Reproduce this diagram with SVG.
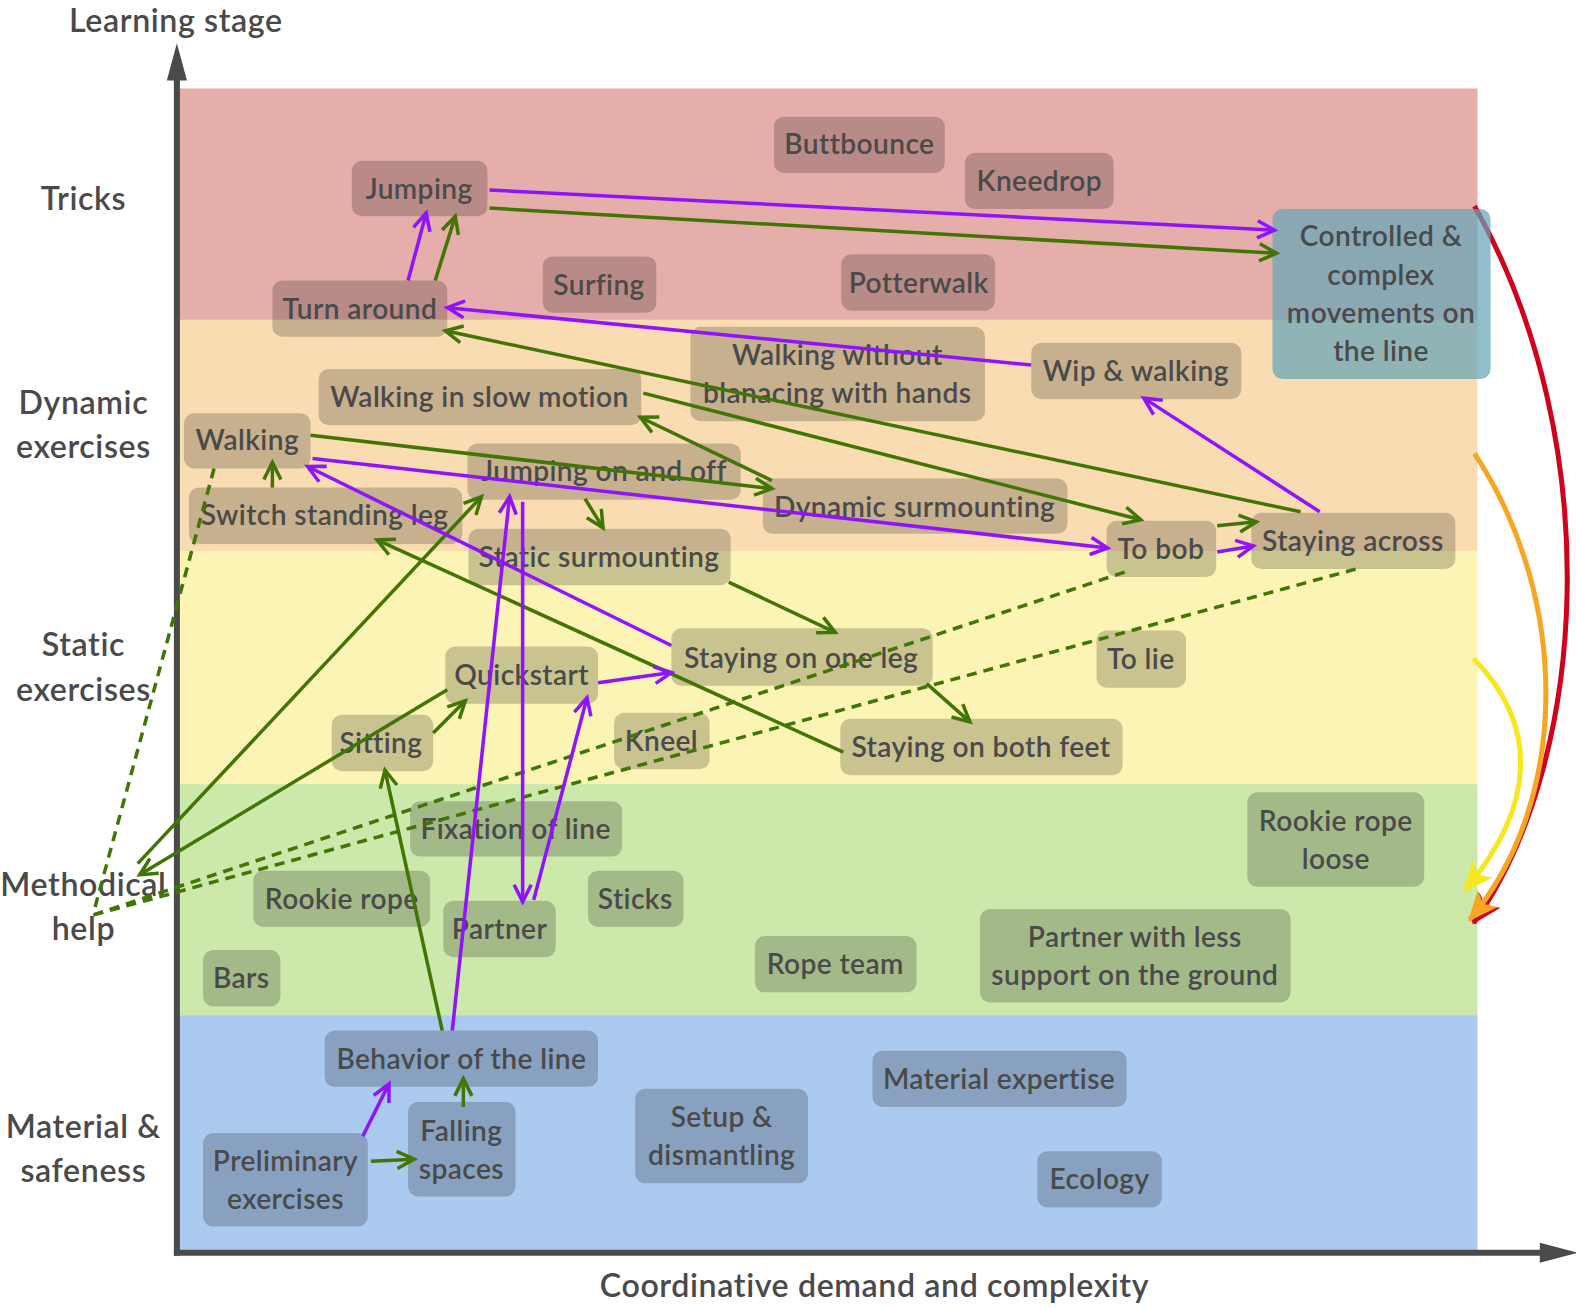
<svg xmlns="http://www.w3.org/2000/svg" width="1576" height="1308" viewBox="0 0 1576 1308">
<style>
.t{font-family:Lato,"Noto Sans","Liberation Sans",sans-serif;font-weight:600;font-size:28px;letter-spacing:0.4px;fill:#4a4a4a;text-anchor:middle}
.lab{font-family:Lato,"Noto Sans","Liberation Sans",sans-serif;font-weight:600;font-size:32px;letter-spacing:0.6px;fill:#4a4a4a;text-anchor:middle}
.node{fill:#000;fill-opacity:.2}
.pu{stroke:#9013FE;stroke-width:3.5;fill:none;marker-end:url(#mp)}
.gr{stroke:#417505;stroke-width:3.5;fill:none;marker-end:url(#mg)}
.da{stroke:#417505;stroke-width:3.5;fill:none;stroke-dasharray:10 7}
.axis{stroke:#4a4a4a;stroke-width:6;fill:none}
</style>
<defs>
<marker id="mp" markerUnits="userSpaceOnUse" orient="auto" markerWidth="24" markerHeight="24" viewBox="-20 -12 24 24" refX="0" refY="0" overflow="visible"><path d="M-17,-8.5 L0,0 L-17,8.5" fill="none" stroke="#9013FE" stroke-width="3.5"/></marker>
<marker id="mg" markerUnits="userSpaceOnUse" orient="auto" markerWidth="24" markerHeight="24" viewBox="-20 -12 24 24" refX="0" refY="0" overflow="visible"><path d="M-17,-8.5 L0,0 L-17,8.5" fill="none" stroke="#417505" stroke-width="3.5"/></marker>
<marker id="mr" markerUnits="userSpaceOnUse" orient="auto" markerWidth="34" markerHeight="34" viewBox="-29 -17 34 34" refX="0" refY="0" overflow="visible"><path d="M-28,-13 L2,0 L-28,13 L-21,0 z" fill="#D0021B"/></marker>
<marker id="mo" markerUnits="userSpaceOnUse" orient="auto" markerWidth="34" markerHeight="34" viewBox="-29 -17 34 34" refX="0" refY="0" overflow="visible"><path d="M-28,-13 L2,0 L-28,13 L-21,0 z" fill="#F5A623"/></marker>
<marker id="my" markerUnits="userSpaceOnUse" orient="auto" markerWidth="34" markerHeight="34" viewBox="-29 -17 34 34" refX="0" refY="0" overflow="visible"><path d="M-28,-13 L2,0 L-28,13 L-21,0 z" fill="#F8E71C"/></marker>
</defs>
<rect width="1576" height="1308" fill="#fff"/>
<g transform="scale(1.0051,1.0054)">
<g id="bands">
<rect x="176" y="88" width="1294" height="231" fill="#e6aeaa"/>
<rect x="176" y="318" width="1294" height="231" fill="#f9dcb1"/>
<rect x="176" y="548" width="1294" height="233" fill="#fcf4b5"/>
<rect x="176" y="780" width="1294" height="231" fill="#cde8ab"/>
<rect x="176" y="1010" width="1294" height="236" fill="#abcaf0"/>
</g>
<g id="axes">
<line class="axis" x1="176" y1="1249" x2="176" y2="76"/>
<polygon points="176,43 166,80 186,80" fill="#4a4a4a"/>
<line class="axis" x1="173" y1="1246" x2="1535" y2="1246"/>
<polygon points="1570,1246 1532,1236 1532,1256" fill="#4a4a4a"/>
<text class="lab" x="175" y="32">Learning stage</text>
<text class="lab" x="870" y="1290">Coordinative demand and complexity</text>
</g>
<g id="stage-labels">
<text class="lab" x="83" y="209">Tricks</text>
<text class="lab" x="83" y="412">Dynamic</text>
<text class="lab" x="83" y="456">exercises</text>
<text class="lab" x="83" y="652">Static</text>
<text class="lab" x="83" y="697">exercises</text>
<text class="lab" x="83" y="891">Methodical</text>
<text class="lab" x="83" y="935">help</text>
<text class="lab" x="83" y="1132">Material &amp;</text>
<text class="lab" x="83" y="1176">safeness</text>
</g>
<g id="progress-arrows" fill="none" stroke-width="5">
<path d="M1467,205 C1600,440 1580,760 1466,918" stroke="#D0021B" marker-end="url(#mr)"/>
<path d="M1467,451 C1565,600 1560,800 1462,915" stroke="#F5A623" marker-end="url(#mo)"/>
<path d="M1466,655 C1530,720 1530,800 1457,886" stroke="#F8E71C" marker-end="url(#my)"/>
</g>
<g id="n-buttbounce"><rect class="node" x="770" y="116" width="170" height="56" rx="10"/><text class="t" x="855" y="153">Buttbounce</text></g>
<g id="n-kneedrop"><rect class="node" x="960" y="152" width="148" height="56" rx="10"/><text class="t" x="1034" y="190">Kneedrop</text></g>
<g id="n-jumping"><rect class="node" x="350" y="160" width="135" height="55" rx="10"/><text class="t" x="417" y="198">Jumping</text></g>
<g id="n-surfing"><rect class="node" x="540" y="255" width="113" height="56" rx="10"/><text class="t" x="596" y="293">Surfing</text></g>
<g id="n-potterwalk"><rect class="node" x="837" y="253" width="153" height="56" rx="10"/><text class="t" x="914" y="291">Potterwalk</text></g>
<g id="n-turn-around"><rect class="node" x="271" y="279" width="174" height="56" rx="10"/><text class="t" x="358" y="317">Turn around</text></g>
<g id="n-controlled"><rect x="1266" y="208" width="217" height="169" rx="10" fill="rgb(102,165,185)" fill-opacity=".72"/><text class="t" x="1374" y="245">Controlled &amp;</text><text class="t" x="1374" y="283">complex</text><text class="t" x="1374" y="321">movements on</text><text class="t" x="1374" y="359">the line</text></g>
<g id="n-walking-without"><rect class="node" x="687" y="325" width="293" height="94" rx="10"/><text class="t" x="833" y="363">Walking without</text><text class="t" x="833" y="401">blanacing with hands</text></g>
<g id="n-wip"><rect class="node" x="1026" y="341" width="209" height="56" rx="10"/><text class="t" x="1130" y="379">Wip &amp; walking</text></g>
<g id="n-slow-motion"><rect class="node" x="317" y="367" width="321" height="56" rx="10"/><text class="t" x="477" y="405">Walking in slow motion</text></g>
<g id="n-walking"><rect class="node" x="183" y="411" width="126" height="55" rx="10"/><text class="t" x="246" y="448">Walking</text></g>
<g id="n-jumping-on-off"><rect class="node" x="465" y="441" width="272" height="56" rx="10"/><text class="t" x="601" y="478">Jumping on and off</text></g>
<g id="n-switch-leg"><rect class="node" x="188" y="485" width="272" height="56" rx="10"/><text class="t" x="323" y="522">Switch standing leg</text></g>
<g id="n-dynamic-surmounting"><rect class="node" x="759" y="476" width="303" height="55" rx="10"/><text class="t" x="910" y="514">Dynamic surmounting</text></g>
<g id="n-to-bob"><rect class="node" x="1101" y="518" width="109" height="56" rx="10"/><text class="t" x="1155" y="556">To bob</text></g>
<g id="n-staying-across"><rect class="node" x="1245" y="510" width="203" height="56" rx="10"/><text class="t" x="1346" y="548">Staying across</text></g>
<g id="n-static-surmounting"><rect class="node" x="466" y="526" width="261" height="56" rx="10"/><text class="t" x="596" y="564">Static surmounting</text></g>
<g id="n-one-leg"><rect class="node" x="668" y="625" width="260" height="57" rx="10"/><text class="t" x="797" y="664">Staying on one leg</text></g>
<g id="n-quickstart"><rect class="node" x="443" y="643" width="152" height="57" rx="10"/><text class="t" x="519" y="681">Quickstart</text></g>
<g id="n-to-lie"><rect class="node" x="1091" y="627" width="89" height="57" rx="10"/><text class="t" x="1135" y="665">To lie</text></g>
<g id="n-sitting"><rect class="node" x="330" y="711" width="101" height="56" rx="10"/><text class="t" x="379" y="749">Sitting</text></g>
<g id="n-kneel"><rect class="node" x="611" y="709" width="95" height="56" rx="10"/><text class="t" x="658" y="747">Kneel</text></g>
<g id="n-both-feet"><rect class="node" x="836" y="715" width="281" height="56" rx="10"/><text class="t" x="976" y="753">Staying on both feet</text></g>
<g id="n-fixation"><rect class="node" x="408" y="797" width="211" height="55" rx="10"/><text class="t" x="513" y="834">Fixation of line</text></g>
<g id="n-rookie-loose"><rect class="node" x="1241" y="788" width="176" height="94" rx="10"/><text class="t" x="1329" y="827">Rookie rope</text><text class="t" x="1329" y="864">loose</text></g>
<g id="n-rookie-rope"><rect class="node" x="252" y="866" width="176" height="56" rx="10"/><text class="t" x="340" y="904">Rookie rope</text></g>
<g id="n-sticks"><rect class="node" x="585" y="866" width="95" height="56" rx="10"/><text class="t" x="632" y="904">Sticks</text></g>
<g id="n-partner"><rect class="node" x="441" y="896" width="112" height="56" rx="10"/><text class="t" x="497" y="934">Partner</text></g>
<g id="n-bars"><rect class="node" x="202" y="945" width="77" height="56" rx="10"/><text class="t" x="240" y="983">Bars</text></g>
<g id="n-rope-team"><rect class="node" x="751" y="931" width="161" height="56" rx="10"/><text class="t" x="831" y="969">Rope team</text></g>
<g id="n-partner-less"><rect class="node" x="975" y="904" width="309" height="93" rx="10"/><text class="t" x="1129" y="942">Partner with less</text><text class="t" x="1129" y="980">support on the ground</text></g>
<g id="n-behavior"><rect class="node" x="323" y="1025" width="272" height="56" rx="10"/><text class="t" x="459" y="1063">Behavior of the line</text></g>
<g id="n-material"><rect class="node" x="868" y="1045" width="253" height="56" rx="10"/><text class="t" x="994" y="1083">Material expertise</text></g>
<g id="n-setup"><rect class="node" x="632" y="1083" width="172" height="94" rx="10"/><text class="t" x="718" y="1121">Setup &amp;</text><text class="t" x="718" y="1159">dismantling</text></g>
<g id="n-falling"><rect class="node" x="406" y="1096" width="107" height="94" rx="10"/><text class="t" x="459" y="1135">Falling</text><text class="t" x="459" y="1173">spaces</text></g>
<g id="n-preliminary"><rect class="node" x="202" y="1127" width="164" height="93" rx="10"/><text class="t" x="284" y="1165">Preliminary</text><text class="t" x="284" y="1203">exercises</text></g>
<g id="n-ecology"><rect class="node" x="1032" y="1145" width="124" height="56" rx="10"/><text class="t" x="1094" y="1183">Ecology</text></g>
<g id="connectors">
<line class="da" x1="213" y1="466" x2="93" y2="908"/>
<line class="da" x1="93" y1="910" x2="1119" y2="569"/>
<line class="da" x1="93" y1="910" x2="1349" y2="566"/>
<line class="gr" x1="487" y1="207" x2="1270" y2="252"/>
<line class="gr" x1="433" y1="279" x2="453" y2="215"/>
<line class="gr" x1="1294" y1="509" x2="443" y2="329"/>
<line class="gr" x1="640" y1="391" x2="1135" y2="517"/>
<line class="gr" x1="768" y1="478" x2="637" y2="415"/>
<line class="gr" x1="309" y1="433" x2="768" y2="486"/>
<line class="gr" x1="271" y1="485" x2="271" y2="460"/>
<line class="gr" x1="582" y1="496" x2="600" y2="525"/>
<line class="gr" x1="725" y1="579" x2="831" y2="629"/>
<line class="gr" x1="922" y1="680" x2="965" y2="718"/>
<line class="gr" x1="839" y1="748" x2="375" y2="537"/>
<line class="gr" x1="1211" y1="523" x2="1250" y2="519"/>
<line class="gr" x1="137" y1="859" x2="479" y2="494"/>
<line class="gr" x1="445" y1="686" x2="139" y2="870"/>
<line class="gr" x1="431" y1="729" x2="463" y2="697"/>
<line class="gr" x1="440" y1="1025" x2="383" y2="766"/>
<line class="gr" x1="369" y1="1155" x2="412" y2="1153"/>
<line class="gr" x1="461" y1="1101" x2="461" y2="1073"/>
<line class="pu" x1="487" y1="189" x2="1268" y2="229"/>
<line class="pu" x1="406" y1="279" x2="424" y2="212"/>
<line class="pu" x1="1026" y1="363" x2="445" y2="306"/>
<line class="pu" x1="1313" y1="509" x2="1138" y2="396"/>
<line class="pu" x1="311" y1="456" x2="1102" y2="545"/>
<line class="pu" x1="1211" y1="549" x2="1247" y2="543"/>
<line class="pu" x1="668" y1="642" x2="306" y2="464"/>
<line class="pu" x1="595" y1="679" x2="668" y2="669"/>
<line class="pu" x1="450" y1="1025" x2="507" y2="494"/>
<line class="pu" x1="520" y1="499" x2="520" y2="897"/>
<line class="pu" x1="531" y1="895" x2="584" y2="694"/>
<line class="pu" x1="361" y1="1130" x2="387" y2="1078"/>
</g>
</g>
</svg>
